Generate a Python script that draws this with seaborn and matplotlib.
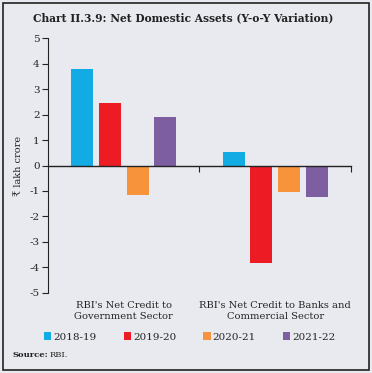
import numpy as np
import pandas as pd
import seaborn as sns
import matplotlib.pyplot as plt
from matplotlib.patches import Rectangle

# Data
sectors = ["RBI's Net Credit to\nGovernment Sector",
           "RBI's Net Credit to Banks and\nCommercial Sector"]
years = ['2018-19', '2019-20', '2020-21', '2021-22']
govt = [3.80, 2.47, -1.17, 1.92]
banks = [0.51, -3.83, -1.05, -1.22]
colors = ['#12abe3', '#ed1c24', '#f7943b', '#7d5fa1']

df = pd.DataFrame({
    'sector': [sectors[0]] * 4 + [sectors[1]] * 4,
    'year': years * 2,
    'value': govt + banks,
})

bg = '#e9eaef'
sns.set_theme(style='ticks')
plt.rcParams['font.family'] = ['DejaVu Serif', 'DejaVu Sans']

fig = plt.figure(figsize=(3.72, 3.73), dpi=100, facecolor=bg)
ax = fig.add_axes([0.129, 0.2145, 0.8145, 0.6836], facecolor=bg)

sns.barplot(data=df, x='sector', y='value', hue='year', palette=colors,
            width=0.73, gap=0.2, saturation=1, linewidth=0, ax=ax, legend=True)

ax.set_ylim(-5, 5)
ax.set_xlim(-0.5, 1.5)
ax.set_yticks(range(-5, 6))
ax.set_yticklabels([str(v) for v in range(-5, 6)], fontsize=7.5, color='#222222')
ax.tick_params(axis='y', length=4, width=0.8, pad=2, color='#222222')
ax.set_ylabel('₹ lakh crore', fontsize=7, color='#222222', labelpad=5)
ax.set_xlabel('')

# x axis sits on zero, ticks at category boundaries
ax.spines['bottom'].set_position(('data', 0))
ax.spines['top'].set_visible(False)
ax.spines['right'].set_visible(False)
ax.spines['left'].set_linewidth(0.8)
ax.spines['bottom'].set_linewidth(1.0)
ax.spines['left'].set_color('#222222')
ax.spines['bottom'].set_color('#222222')
ax.set_xticks([0.5, 1.5])
ax.set_xticklabels(['', ''])
ax.tick_params(axis='x', length=4, width=0.8, direction='out', color='#222222')

for i, s in enumerate(sectors):
    ax.text(i, -5.3, s, ha='center', va='top', fontsize=7.1,
            color='#222222', linespacing=1.3)

h, l = ax.get_legend_handles_labels()
ax.get_legend().remove()
fig.legend(h, l, loc='center', bbox_to_anchor=(0.51, 0.0965), ncol=4,
           frameon=False, fontsize=7.5, handlelength=0.7, handleheight=0.7,
           handletextpad=0.2, columnspacing=2.6)

fig.text(0.088, 0.952, 'Chart II.3.9: Net Domestic Assets (Y-o-Y Variation)',
         fontsize=7.7, fontweight='bold', color='#222222', va='center')
fig.text(0.033, 0.048, 'Source:', fontsize=6.0, fontweight='bold',
         color='#222222', va='center')
fig.text(0.134, 0.048, 'RBI.', fontsize=6.0, color='#222222', va='center')

fig.patches.append(Rectangle((0.008, 0.008), 0.984, 0.984, transform=fig.transFigure,
                             fill=False, edgecolor='#222222', linewidth=1.2))

fig.savefig('out.png', dpi=100, facecolor=bg)
